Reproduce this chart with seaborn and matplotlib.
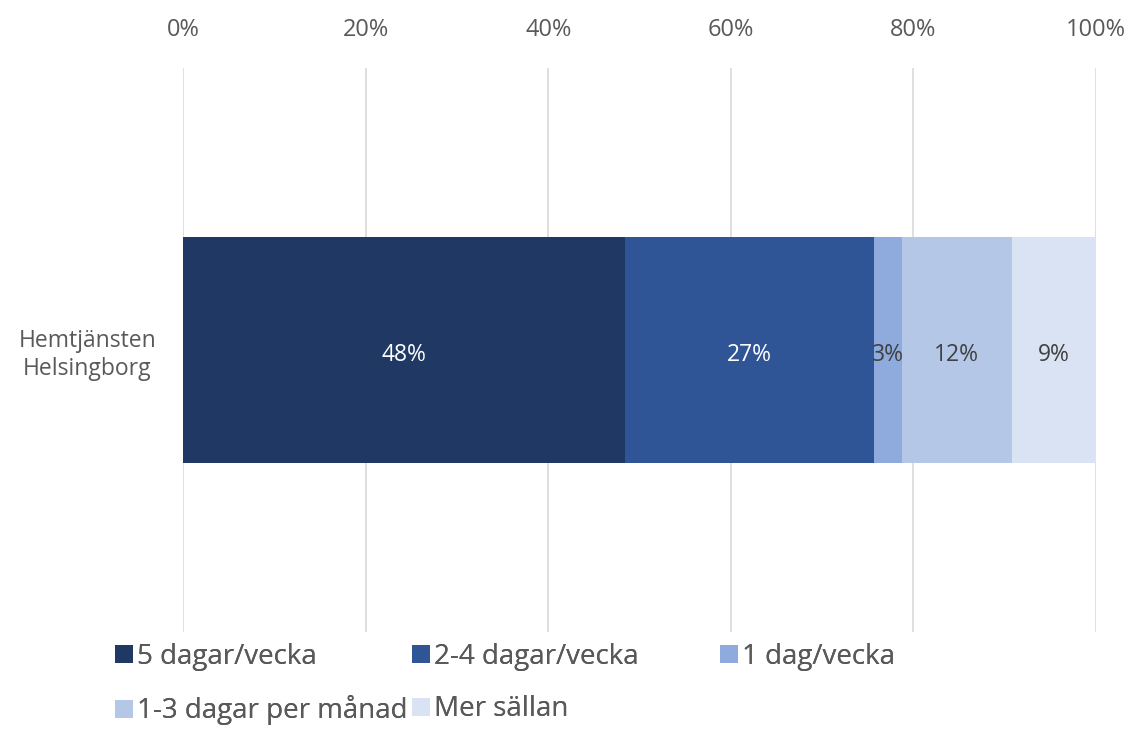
import matplotlib
matplotlib.use("Agg")
import matplotlib.pyplot as plt
import seaborn as sns
import pandas as pd
import numpy as np
from matplotlib.patches import Patch

categories = ["Hemtjänsten\nHelsingborg"]
series = ["5 dagar/vecka", "2-4 dagar/vecka", "1 dag/vecka", "1-3 dagar per månad", "Mer sällan"]
values = [48.4, 27.3, 3.0, 12.1, 9.2]
labels = ["48%", "27%", "3%", "12%", "9%"]
colors = ["#203864", "#2F5597", "#8FAADC", "#B4C7E7", "#DAE3F3"]
label_colors = ["white", "white", "#404040", "#404040", "#404040"]
xticks = [0, 20, 40, 60, 80, 100]

sns.set_theme(style="white")
plt.rcParams["font.family"] = ["Open Sans", "DejaVu Sans"]

fig = plt.figure(figsize=(11.34, 7.3), dpi=100)
ax = fig.add_axes([183/1134, 1 - 632/730, (1096-183)/1134, (632-68)/730])

cum = np.cumsum(values)
# draw from last cumulative to first so earlier segments cover
for i in range(len(values) - 1, -1, -1):
    df = pd.DataFrame({"cat": categories, "val": [cum[i]]})
    sns.barplot(data=df, x="val", y="cat", orient="h", color=colors[i],
                saturation=1, width=1.0, ax=ax, edgecolor="none", linewidth=0)

starts = cum - np.array(values)
for i, (s, v) in enumerate(zip(starts, values)):
    ax.text(s + v / 2, 0.02, labels[i], ha="center", va="center",
            color=label_colors[i], fontsize=16.5)

ax.set_xlim(0, 100)
ax.set_ylim(1.25, -1.25)
ax.set_xticks(xticks)
ax.set_xticklabels([f"{t}%" for t in xticks], fontsize=17, color="#595959")
ax.xaxis.tick_top()
ax.tick_params(axis="x", length=0, pad=19)
ax.tick_params(axis="y", length=0, pad=0, labelsize=16.5, labelcolor="#595959")
for lab in ax.get_yticklabels():
    lab.set_horizontalalignment("center")
    lab.set_x(-0.1046)
ax.set_xlabel("")
ax.set_ylabel("")
ax.grid(axis="x", color="#D9D9D9", linewidth=1.2)
ax.set_axisbelow(True)
for sp in ax.spines.values():
    sp.set_visible(False)

handles = [Patch(facecolor=c, edgecolor="none", label=s) for s, c in zip(series, colors)]
columns = [([0, 3], 115), ([1, 4], 412), ([2], 720)]
for idx, xpx in columns:
    leg = fig.legend([handles[k] for k in idx], [series[k] for k in idx],
                     ncol=1, loc="upper left", bbox_to_anchor=(xpx/1134, 1 - 643/730),
                     frameon=False, fontsize=20, handlelength=0.64, handleheight=0.64,
                     handletextpad=0.15, labelspacing=0.88,
                     borderaxespad=0, borderpad=0)
    for t in leg.get_texts():
        t.set_color("#595959")
    fig.add_artist(leg)

fig.savefig("out.png", dpi=100)
